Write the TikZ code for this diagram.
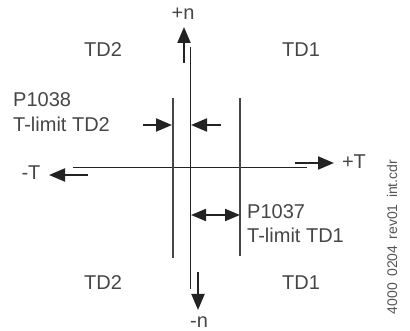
\documentclass[tikz,border=0pt]{standalone}
\usepackage{fontspec}
\setmainfont{Liberation Sans}
\usetikzlibrary{arrows.meta}
\definecolor{ink}{RGB}{35,35,35}
\definecolor{slate}{RGB}{70,70,70}
\definecolor{fileg}{RGB}{85,85,85}

\begin{document}
\begin{tikzpicture}[
    x=1pt, y=-1pt,
    axis/.style={draw=ink, line width=0.9pt},
    limit/.style={draw=slate, line width=1.5pt},
    dirarrow/.style={-{Triangle[length=16pt, width=13pt]}, draw=ink, fill=ink, line width=2pt},
    duoarrow/.style={{Triangle[length=15pt, width=12pt]}-{Triangle[length=15pt, width=12pt]}, draw=ink, fill=ink, line width=2pt},
    lbl/.style={font=\fontsize{20}{24}\selectfont, text=slate, inner sep=0pt},
    quad/.style={lbl},
    note/.style={lbl, anchor=base west},
    fname/.style={font=\fontsize{14}{16}\selectfont, text=fileg, rotate=90, inner sep=0pt}
  ]
  \useasboundingbox (0,0) rectangle (410,331);
  \def\yP{125} \def\yQ{215}

  % axes
  \coordinate (ntop) at (190,47); \coordinate (nbot) at (190,289);
  \coordinate (tleft) at (73,167); \coordinate (tright) at (307,167);
  \draw[axis] (ntop) -- (nbot);
  \draw[axis] (tleft) -- (tright);

  % limit lines
  \coordinate (lim2a) at (173,98); \coordinate (lim2b) at (173,258);
  \coordinate (lim1a) at (240,98); \coordinate (lim1b) at (240,256);
  \draw[limit] (lim2a) -- (lim2b);
  \draw[limit] (lim1a) -- (lim1b);

  % direction arrows
  \coordinate (pn0) at (184,63); \coordinate (pn1) at (184,27);
  \coordinate (mn0) at (198,272); \coordinate (mn1) at (198,310);
  \coordinate (pt0) at (295,163); \coordinate (pt1) at (334,163);
  \coordinate (mt0) at (88,175); \coordinate (mt1) at (49,175);
  \draw[dirarrow] (pn0) -- (pn1);
  \draw[dirarrow] (mn0) -- (mn1);
  \draw[dirarrow] (pt0) -- (pt1);
  \draw[dirarrow] (mt0) -- (mt1);
  \node[lbl] (pn) at (183,14) {+n};
  \node[lbl] (mn) at (199,322) {-n};
  \node[lbl] (pt) at (354,162) {+T};
  \node[lbl] (mt) at (31,173) {-T};

  % quadrants
  \node[quad] (q2u) at (103,50) {TD2};
  \node[quad] (q1u) at (301,50) {TD1};
  \node[quad] (q2d) at (103,283) {TD2};
  \node[quad] (q1d) at (301,283) {TD1};

  % P1038
  \coordinate (a0) at (143,\yP); \coordinate (a1) at (172,\yP);
  \coordinate (b0) at (221,\yP); \coordinate (b1) at (191,\yP);
  \draw[dirarrow] (a0) -- (a1);
  \draw[dirarrow] (b0) -- (b1);
  \node[note] (p38) at (13,107) {P1038};
  \node[note] (t38) at (13,132) {T-limit TD2};

  % P1037
  \coordinate (c0) at (191,\yQ); \coordinate (c1) at (240,\yQ);
  \draw[duoarrow] (c0) -- (c1);
  \node[note] (p37) at (247,219) {P1037};
  \node[note] (t37) at (247,243) {T-limit TD1};

  \node[fname] (file) at (392,237) {4000\hspace{0.45em}0204\hspace{0.45em}rev01\hspace{0.45em}int.cdr};
\end{tikzpicture}
\end{document}
